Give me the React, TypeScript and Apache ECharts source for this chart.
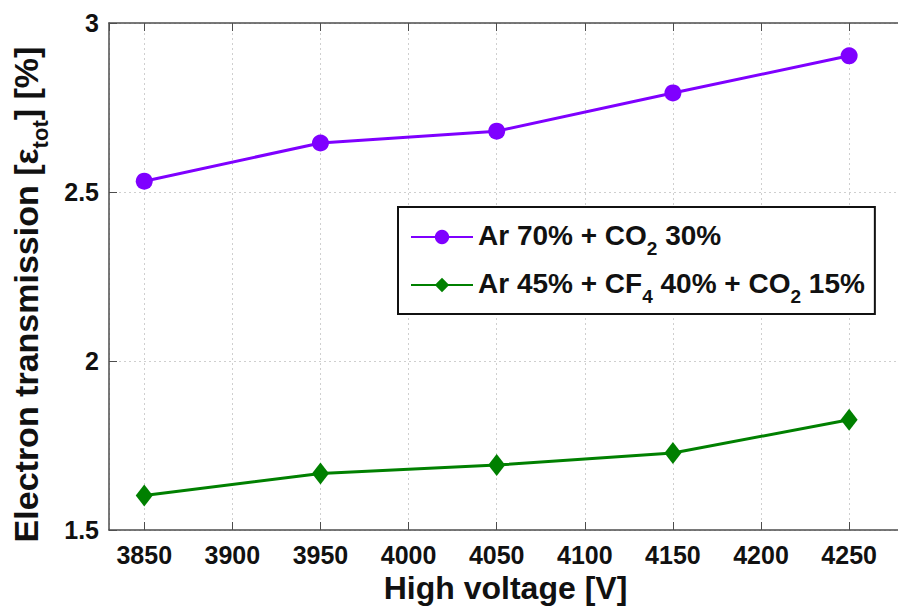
import React, { useEffect, useRef } from "react";
import * as echarts from "echarts";

// High voltage settings [V]
const voltages = [3850, 3950, 4050, 4150, 4250];
// Electron transmission [%] for the two gas mixtures
const arCo2 = [2.532, 2.645, 2.68, 2.793, 2.903];
const arCf4Co2 = [1.602, 1.667, 1.692, 1.728, 1.826];

const seriesNames = ["Ar 70% + CO2 30%", "Ar 45% + CF4 40% + CO2 15%"];
const legendLabels = [
  "{n|Ar 70% + CO}{s|2}{n| 30%}",
  "{n|Ar 45% + CF}{s|4}{n| 40% + CO}{s|2}{n| 15%}",
];
const seriesColors = ["#7F00FF", "#008000"];

const FONT = "'Liberation Sans', Arial, Helvetica, sans-serif";

export default function App() {
  const ref = useRef<HTMLDivElement>(null);

  useEffect(() => {
    document.body.style.margin = "0";
    document.body.style.overflow = "hidden";
    if (!ref.current) return;
    const chart = echarts.init(ref.current, null, { renderer: "svg" });

    const xBase = {
      type: "value" as const,
      min: 3830,
      max: 4280,
      splitNumber: 9,
      axisLine: { show: true, lineStyle: { color: "#4d4d4d", width: 1.5 } },
      axisTick: { show: true, inside: true, length: 8, lineStyle: { color: "#4d4d4d", width: 1 } },
    };

    chart.setOption({
      animation: false,
      backgroundColor: "#ffffff",
      grid: {
        left: 109,
        top: 23,
        right: -4,
        bottom: 77,
        containLabel: false,
        outerBoundsMode: "none",
      },
      xAxis: [
        {
          ...xBase,
          position: "bottom",
          name: "High voltage [V]",
          nameLocation: "middle",
          nameGap: 42,
          nameTextStyle: { fontFamily: FONT, fontWeight: "bold", fontSize: 32, color: "#111" },
          axisLabel: {
            interval: 0,
            showMinLabel: false,
            showMaxLabel: false,
            margin: 12,
            fontFamily: FONT,
            fontWeight: "bold",
            fontSize: 25,
            color: "#111",
            formatter: (v: number) => String(v),
          },
          splitLine: { show: true, lineStyle: { color: "#cfcfcf", type: [2, 3], width: 1 } },
        },
        {
          ...xBase,
          position: "top",
          axisLabel: { show: false },
          splitLine: { show: false },
        },
      ],
      yAxis: {
        type: "value",
        min: 1.5,
        max: 3,
        interval: 0.5,
        name: "{n|Electron transmission [ε}{s|tot}{n|] [%]}",
        nameLocation: "middle",
        nameGap: 62,
        nameTextStyle: {
          fontFamily: FONT,
          fontWeight: "bold",
          color: "#111",
          padding: [0, 36, 0, 0],
          rich: {
            n: { fontFamily: FONT, fontWeight: "bold", fontSize: 34, lineHeight: 38, verticalAlign: "top", color: "#111" },
            s: { fontFamily: FONT, fontWeight: "bold", fontSize: 22, lineHeight: 22, padding: [20, 0, 0, 0], verticalAlign: "top", color: "#111" },
          },
        },
        axisLine: { show: true, lineStyle: { color: "#4d4d4d", width: 1.5 } },
        axisTick: { show: true, inside: true, length: 8, lineStyle: { color: "#4d4d4d", width: 1 } },
        axisLabel: { margin: 10, fontFamily: FONT, fontWeight: "bold", fontSize: 25, color: "#111" },
        splitLine: { show: true, lineStyle: { color: "#cfcfcf", type: [2, 3], width: 1 } },
      },
      legend: {
        orient: "vertical",
        left: 398,
        top: 207,
        padding: [14, 10, 8, 12],
        itemGap: 11,
        itemWidth: 62,
        itemHeight: 18,
        borderColor: "#111",
        borderWidth: 2,
        backgroundColor: "#ffffff",
        data: seriesNames,
        formatter: (name: string) => legendLabels[seriesNames.indexOf(name)],
        textStyle: {
          fontFamily: FONT,
          fontWeight: "bold",
          color: "#111",
          rich: {
            n: { fontFamily: FONT, fontWeight: "bold", fontSize: 28, lineHeight: 32, verticalAlign: "top", color: "#111" },
            s: { fontFamily: FONT, fontWeight: "bold", fontSize: 19, lineHeight: 19, padding: [18, 0, 0, 0], verticalAlign: "top", color: "#111" },
          },
        },
      },
      series: [
        {
          type: "line",
          name: seriesNames[0],
          data: voltages.map((v, i) => [v, arCo2[i]]),
          symbol: "circle",
          symbolSize: 17,
          lineStyle: { width: 3, color: seriesColors[0] },
          itemStyle: { color: seriesColors[0] },
        },
        {
          type: "line",
          name: seriesNames[1],
          data: voltages.map((v, i) => [v, arCf4Co2[i]]),
          symbol: "diamond",
          symbolSize: [17, 22],
          lineStyle: { width: 3, color: seriesColors[1] },
          itemStyle: { color: seriesColors[1] },
        },
      ],
    });

    return () => chart.dispose();
  }, []);

  return <div ref={ref} style={{ width: 898, height: 607 }} />;
}
